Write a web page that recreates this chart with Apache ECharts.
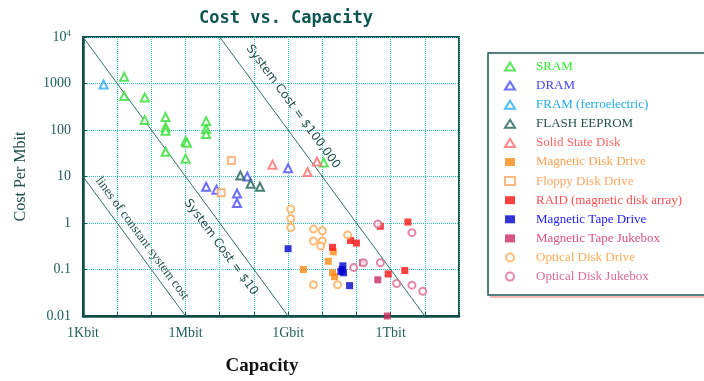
<!DOCTYPE html>
<html>
<head>
<meta charset="utf-8">
<script src="https://cdn.jsdelivr.net/npm/echarts@6/dist/echarts.min.js"></script>
<style>html,body{margin:0;padding:0;background:#fff}#c{width:704px;height:381px}</style>
</head>
<body>
<div id="c"></div>
<script>
// ---- data: [capacity in bits, cost in $ per Mbit] ----
const sram = [[1.6e4,1400],[1.6e4,540],[6.4e4,500],[6.4e4,165],[2.6e5,190],[2.6e5,115],[2.6e5,96],[2.6e5,34],[1e6,57],[1.1e6,53],[1e6,24],[4e6,155],[4e6,105],[4e6,82],[1.1e10,20]];
const dram = [[4e6,6],[8e6,5.2],[3.2e7,4.3],[3.2e7,2.7],[6.4e7,10],[1e9,15]];
const fram = [[4e3,950]];
const flash = [[4e7,10.5],[8e7,7],[1.5e8,6]];
const ssd = [[3.5e8,18],[3.7e9,12.5],[7e9,21]];
const magDisk = [[2.8e9,0.1],[1.5e10,0.15],[2.1e10,0.24],[2e10,0.085],[2.3e10,0.07]];
const floppy = [[2.2e7,22],[1.1e7,4.5]];
const raid = [[2e10,0.3],[6.7e10,0.42],[1e11,0.37],[5e11,0.85],[3.2e12,1.05],[8.5e11,0.08],[2.6e12,0.095]];
const tape = [[1e9,0.28],[4e10,0.12],[3.5e10,0.09],[4.2e10,0.085],[3.8e10,0.1],[6.3e10,0.045]];
const tapeJuke = [[1.5e11,0.14],[4.2e11,0.06],[8e11,0.01]];
const optDrive = [[1.2e9,2],[1.2e9,1.25],[1.2e9,0.8],[5.5e9,0.74],[1e10,0.68],[5.5e9,0.41],[1e10,0.41],[9e9,0.32],[5.5e9,0.047],[2.8e10,0.047],[5.5e10,0.55]];
const optJuke = [[4.2e11,0.95],[4.2e12,0.62],[8.3e10,0.11],[1.6e11,0.14],[5e11,0.14],[1.5e12,0.05],[4.2e12,0.046],[8.7e12,0.034]];

// constant system cost lines (endpoints)
const costLine001 = [[1e3,10],[1e6,0.01]];
const costLine10 = [[1e3,1e4],[1e9,0.01]];
const costLine100k = [[1e7,1e4],[1e13,0.01]];

const xTickExp = [3,6,9,12];
const xTickLabels = ['1Kbit','1Mbit','1Gbit','1Tbit'];
const yTickExp = [-2,-1,0,1,2,3,4];
const yTickLabels = ['0.01','0.1','1','10','100','1000','10{s|4}'];

const seriesNames = ['SRAM','DRAM','FRAM (ferroelectric)','FLASH EEPROM','Solid State Disk','Magnetic Disk Drive','Floppy Disk Drive','RAID (magnetic disk array)','Magnetic Tape Drive','Magnetic Tape Jukebox','Optical Disk Drive','Optical Disk Jukebox'];
const seriesData = [sram,dram,fram,flash,ssd,magDisk,floppy,raid,tape,tapeJuke,optDrive,optJuke];
const seriesColors = ['#33dd33','#4a4aff','#22aaee','#1f5f58','#ff6b6b','#ff8a10','#ffa560','#ff1010','#0000cc','#cc2a5e','#ffaa55','#dd6a90'];
const seriesSymbols = ['emptyTriangle','emptyTriangle','emptyTriangle','emptyTriangle','emptyTriangle','rect','emptyRect','rect','rect','rect','emptyCircle','emptyCircle'];
const legendTextColors = ['#33ee33','#4444ff','#22aaee','#1f4f4a','#ff6666','#ffa050','#ffa560','#ff5050','#2222ff','#dd5080','#ffaa55','#dd6a90'];

const dark = '#0f4f4a';
const chart = echarts.init(document.getElementById('c'));

const scatterSeries = seriesNames.map((n,i)=>({
  name:n, type:'scatter', data:seriesData[i], symbol:seriesSymbols[i],
  symbolSize: seriesSymbols[i].indexOf('Triangle')>=0 ? 8 : 7,
  itemStyle:{color:seriesColors[i], borderColor:seriesColors[i], borderWidth: seriesSymbols[i].indexOf('empty')===0 ? 1.3 : 0},
  z:3
}));
const lineSeries = [costLine001,costLine10,costLine100k].map(d=>({
  type:'line', data:d, showSymbol:false, silent:true, z:2,
  lineStyle:{color:'#2f6f6a', width:1}
}));

function expOf(v){return Math.round(Math.log10(v));}

chart.setOption({
  animation:false,
  title:{text:'Cost vs. Capacity', left:281, top:5, textAlign:'center',
    textStyle:{fontFamily:'DejaVu Sans Mono', fontWeight:'bold', fontSize:17, color:'#0d5550'}},
  grid:{left:83, top:37, right:245, bottom:64, show:true, borderColor:dark, borderWidth:2},
  xAxis:{type:'log', logBase:10, min:1e3, max:1e14, interval:1,
    axisLine:{lineStyle:{color:dark, width:2.5}},
    axisTick:{inside:true, length:4, lineStyle:{color:dark}},
    splitLine:{show:true, lineStyle:{color:'#33c0c0', type:'dotted', width:1}},
    axisLabel:{margin:10, fontFamily:'Liberation Serif', fontSize:14, color:'#1f5f5a',
      showMinLabel:true, showMaxLabel:true,
      formatter:v=>{const k=xTickExp.indexOf(expOf(v)); return k>=0?xTickLabels[k]:'';}},
    name:'Capacity', nameLocation:'middle', nameGap:41,
    nameTextStyle:{fontFamily:'Liberation Serif', fontWeight:'bold', fontSize:19, color:'#111', padding:[0,18,0,0]}
  },
  yAxis:{type:'log', logBase:10, min:0.01, max:1e4, interval:1,
    axisLine:{lineStyle:{color:dark, width:2.5}},
    axisTick:{inside:true, length:4, lineStyle:{color:dark}},
    splitLine:{show:true, lineStyle:{color:'#33c0c0', type:'dotted', width:1}},
    axisLabel:{margin:12, fontFamily:'Liberation Serif', fontSize:14, color:'#1f5f5a',
      showMinLabel:true, showMaxLabel:true,
      formatter:v=>{const k=yTickExp.indexOf(expOf(v)); return k>=0?yTickLabels[k]:'';},
      rich:{s:{fontSize:9, verticalAlign:'top', color:'#1f5f5a', fontFamily:'Liberation Serif', padding:[0,0,7,0]}}},
    name:'Cost Per Mbit', nameLocation:'middle', nameGap:54, nameRotate:90,
    nameTextStyle:{fontFamily:'Liberation Serif', fontSize:16, color:'#1f4f4c'}
  },
  legend:{
    orient:'vertical', left:499, top:55, itemWidth:10, itemHeight:8, itemGap:6.1,
    textStyle:{fontFamily:'Liberation Serif', fontSize:13, lineHeight:13, padding:[0,0,0,16]},
    data: seriesNames.map((n,i)=>({name:n, textStyle:{color:legendTextColors[i]}}))
  },
  series: lineSeries.concat(scatterSeries)
});

// legend frame
const g = [
  {type:'rect', shape:{x:488, y:53, width:240, height:242}, style:{fill:'none', stroke:'#1d5a55', lineWidth:1.5}, z:0},
  {type:'line', shape:{x1:490, y1:297, x2:710, y2:297}, style:{stroke:'#f4a0a0', lineWidth:1.5}, z:0}
];

// labels along constant-cost lines
const labelSpecs = [
  {line:costLine100k, t:0.288, d:-17.7, text:'System Cost = $100,000', font:'12px "DejaVu Sans"'},
  {line:costLine10, t:0.725, d:13.4, text:'System Cost = $10', font:'12px "DejaVu Sans"'},
  {line:costLine001, t:0.49, d:-11, text:'lines of constant system cost', font:'13px "Liberation Serif"'}
];
labelSpecs.forEach(s=>{
  const A = chart.convertToPixel({gridIndex:0}, s.line[0]);
  const B = chart.convertToPixel({gridIndex:0}, s.line[1]);
  const dx=B[0]-A[0], dy=B[1]-A[1], L=Math.hypot(dx,dy);
  const ux=dx/L, uy=dy/L, nx=-uy, ny=ux;
  const px=A[0]+s.t*dx + s.d*nx, py=A[1]+s.t*dy + s.d*ny;
  g.push({type:'text', x:px, y:py, rotation:-Math.atan2(uy,ux), z:5,
    style:{text:s.text, x:0, y:0, align:'center', verticalAlign:'middle', font:s.font, fill:'#1f4f4c'}});
});
chart.setOption({graphic:g});
</script>
</body>
</html>
